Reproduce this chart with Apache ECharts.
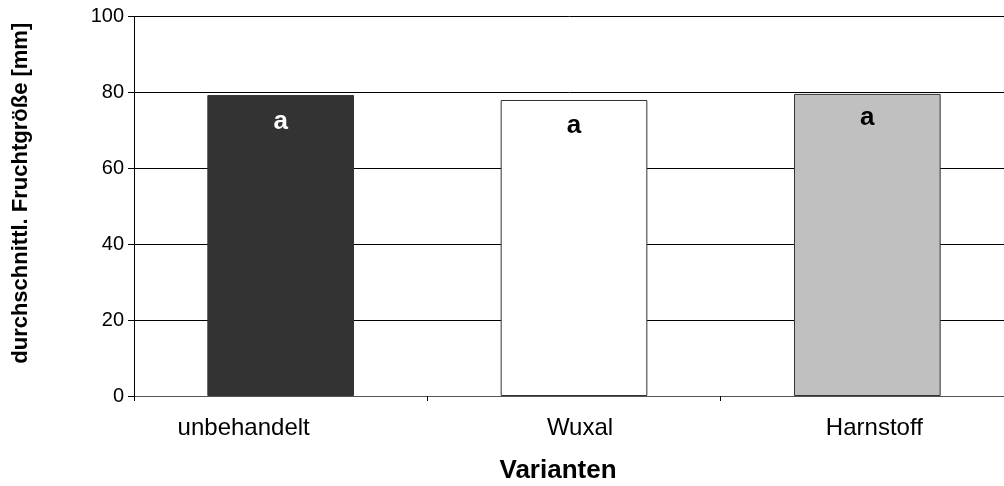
<!DOCTYPE html>
<html>
<head>
<meta charset="utf-8">
<script src="https://cdn.jsdelivr.net/npm/echarts@6/dist/echarts.min.js"></script>
<style>html,body{margin:0;padding:0;background:#fff}#c{width:1004px;height:486px}</style>
</head>
<body>
<div id="c"></div>
<script>
const categories = ['unbehandelt', 'Wuxal', 'Harnstoff'];
const values = [79.3, 78.0, 79.6];
const letters = ['a', 'a', 'a'];
const barColors = ['#333333', '#ffffff', '#c0c0c0'];
const letterColors = ['#ffffff', '#000000', '#000000'];
const yTicks = [0, 20, 40, 60, 80, 100];

const FONT = 'Arial, "Liberation Sans", sans-serif';
const labelShift = {unbehandelt: [0, 74, 0, 0], Wuxal: [0, 0, 0, 12], Harnstoff: [0, 0, 0, 14]};
const labelDist = [14, 13, 11];
const rich = {};
categories.forEach((c, i) => { rich['c' + i] = {padding: labelShift[c] || 0, fontSize: 24, fontFamily: FONT, color: '#000'}; });

const chart = echarts.init(document.getElementById('c'), null, {renderer: 'canvas'});
chart.setOption({
  animation: false,
  backgroundColor: '#fff',
  grid: {left: 134, top: 16.5, width: 880, bottom: 90, containLabel: false, outerBoundsMode: 'none'},
  xAxis: {
    type: 'category',
    data: categories,
    name: 'Varianten',
    nameLocation: 'middle',
    nameGap: 62,
    nameTextStyle: {fontSize: 26, fontWeight: 'bold', color: '#000', fontFamily: FONT, padding: [0, 32, 0, 0]},
    axisLine: {lineStyle: {color: '#555', width: 1}},
    axisTick: {show: true, length: 5, lineStyle: {color: '#000'}},
    axisLabel: {
      margin: 20,
      formatter: (v) => '{c' + categories.indexOf(v) + '|' + v + '}',
      rich: rich
    },
    splitLine: {show: false}
  },
  yAxis: {
    type: 'value',
    min: yTicks[0],
    max: yTicks[yTicks.length - 1],
    interval: 20,
    name: 'durchschnittl. Fruchtgröße [mm]',
    nameLocation: 'middle',
    nameRotate: 90,
    nameGap: 102,
    nameTextStyle: {fontSize: 22, fontWeight: 'bold', color: '#000', fontFamily: FONT, padding: [0, 0, 0, 26]},
    axisLine: {show: true, lineStyle: {color: '#000', width: 1}},
    axisTick: {show: true, length: 6, lineStyle: {color: '#000'}},
    axisLabel: {fontSize: 20, color: '#000', margin: 10, fontFamily: FONT},
    splitLine: {show: true, lineStyle: {color: '#000', width: 1}}
  },
  series: [{
    type: 'bar',
    barWidth: '50%',
    data: values.map((v, i) => ({
      value: v,
      itemStyle: {color: barColors[i], borderColor: '#333', borderWidth: 1},
      label: {
        show: true,
        position: 'insideTop',
        distance: labelDist[i],
        formatter: letters[i],
        color: letterColors[i],
        fontSize: 26,
        fontWeight: 'bold',
        fontFamily: FONT
      }
    }))
  }]
});
</script>
</body>
</html>
